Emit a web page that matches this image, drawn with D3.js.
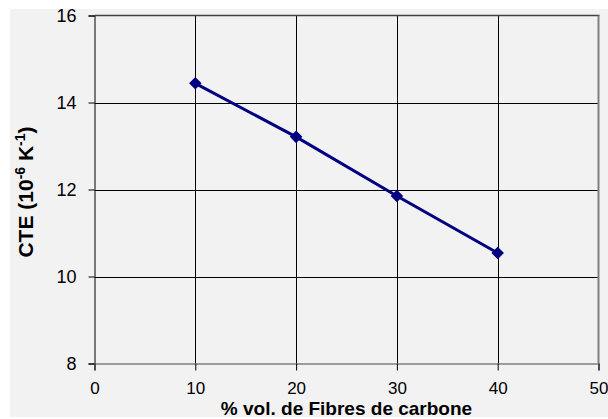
<!DOCTYPE html>
<html>
<head>
<meta charset="utf-8">
<script src="https://cdn.jsdelivr.net/npm/d3@7"></script>
<style>
  html, body { margin: 0; padding: 0; background: #ffffff; }
  svg { display: block; font-family: "Liberation Sans", Arial, sans-serif; }
</style>
</head>
<body>
<svg id="chart" width="608" height="419"></svg>
<script>
// Coefficient of thermal expansion vs. carbon fibre volume fraction
const fibreContent = [10, 20, 30, 40];
const cteValues = [14.44, 13.21, 11.85, 10.54];
const xTicks = [0, 10, 20, 30, 40, 50];
const yTicks = [8, 10, 12, 14, 16];

const svg = d3.select("#chart");

// Chart panel background
svg.append("rect")
  .attr("x", 10).attr("y", 9)
  .attr("width", 598).attr("height", 408)
  .attr("fill", "#f2f2f2");

const x = d3.scaleLinear().domain([0, 50]).range([94.5, 598.5]);
const y = d3.scaleLinear().domain([8, 16]).range([363.5, 15.5]);

const plot = svg.append("g");

// Vertical gridlines
plot.selectAll("line.vgrid")
  .data(xTicks.slice(1, -1))
  .join("line")
  .attr("class", "vgrid")
  .attr("x1", d => Math.round(x(d)) + 0.5).attr("x2", d => Math.round(x(d)) + 0.5)
  .attr("y1", y(16)).attr("y2", y(8))
  .attr("stroke", "#000").attr("stroke-width", 1);

// Horizontal gridlines
plot.selectAll("line.hgrid")
  .data(yTicks.slice(1, -1))
  .join("line")
  .attr("class", "hgrid")
  .attr("x1", x(0)).attr("x2", x(50))
  .attr("y1", d => Math.round(y(d)) + 0.5).attr("y2", d => Math.round(y(d)) + 0.5)
  .attr("stroke", "#000").attr("stroke-width", 1);

// Plot frame: top and right edges
plot.append("line")
  .attr("x1", x(0)).attr("x2", x(50) + 1)
  .attr("y1", y(16)).attr("y2", y(16))
  .attr("stroke", "#404040").attr("stroke-width", 1.5);
plot.append("line")
  .attr("x1", x(50)).attr("x2", x(50))
  .attr("y1", y(16)).attr("y2", y(8))
  .attr("stroke", "#808080").attr("stroke-width", 2);

// Y axis
const yAxis = d3.axisLeft(y).tickValues(yTicks).tickSize(6).tickPadding(12)
  .tickFormat(d3.format("d"));
const gy = svg.append("g").attr("transform", `translate(${x(0)},0)`).call(yAxis);
gy.select(".domain").attr("stroke", "#000").attr("stroke-width", 1);
gy.selectAll(".tick line").attr("stroke", "#000");
gy.selectAll(".tick text")
  .attr("font-size", 18).attr("fill", "#000")
  .attr("font-family", "Liberation Sans, Arial, sans-serif");

// X axis
const xAxis = d3.axisBottom(x).tickValues(xTicks).tickSize(7).tickPadding(11)
  .tickFormat(d3.format("d"));
const gx = svg.append("g").attr("transform", `translate(0,${y(8)})`).call(xAxis);
gx.select(".domain").attr("stroke", "#808080").attr("stroke-width", 1.5);
gx.selectAll(".tick line").attr("stroke", "#000");
gx.selectAll(".tick text")
  .attr("font-size", 17).attr("fill", "#000")
  .attr("font-family", "Liberation Sans, Arial, sans-serif");

// Data line
const line = d3.line()
  .x((d, i) => x(fibreContent[i]))
  .y(d => y(d));
svg.append("path")
  .datum(cteValues)
  .attr("d", line)
  .attr("fill", "none")
  .attr("stroke", "#000080")
  .attr("stroke-width", 3)
  .attr("stroke-linejoin", "round");

// Diamond markers
svg.selectAll("path.marker")
  .data(cteValues)
  .join("path")
  .attr("class", "marker")
  .attr("d", d3.symbol().type(d3.symbolDiamond2).size(100))
  .attr("transform", (d, i) => `translate(${x(fibreContent[i])},${y(d)})`)
  .attr("fill", "#000080");

// Axis titles
svg.append("text")
  .attr("x", (x(0) + x(50)) / 2)
  .attr("y", 414.5)
  .attr("text-anchor", "middle")
  .attr("font-size", 19).attr("font-weight", "bold").attr("fill", "#000")
  .text("% vol. de Fibres de carbone");

const yTitle = svg.append("text")
  .attr("transform", "translate(33,192) rotate(-90)")
  .attr("text-anchor", "middle")
  .attr("font-size", 21).attr("font-weight", "bold").attr("fill", "#000");
yTitle.append("tspan").text("CTE (10");
yTitle.append("tspan").attr("font-size", 14).attr("dy", -8).text("-6");
yTitle.append("tspan").attr("dy", 8).text(" K");
yTitle.append("tspan").attr("font-size", 14).attr("dy", -8).text("-1");
yTitle.append("tspan").attr("dy", 8).text(")");
</script>
</body>
</html>
